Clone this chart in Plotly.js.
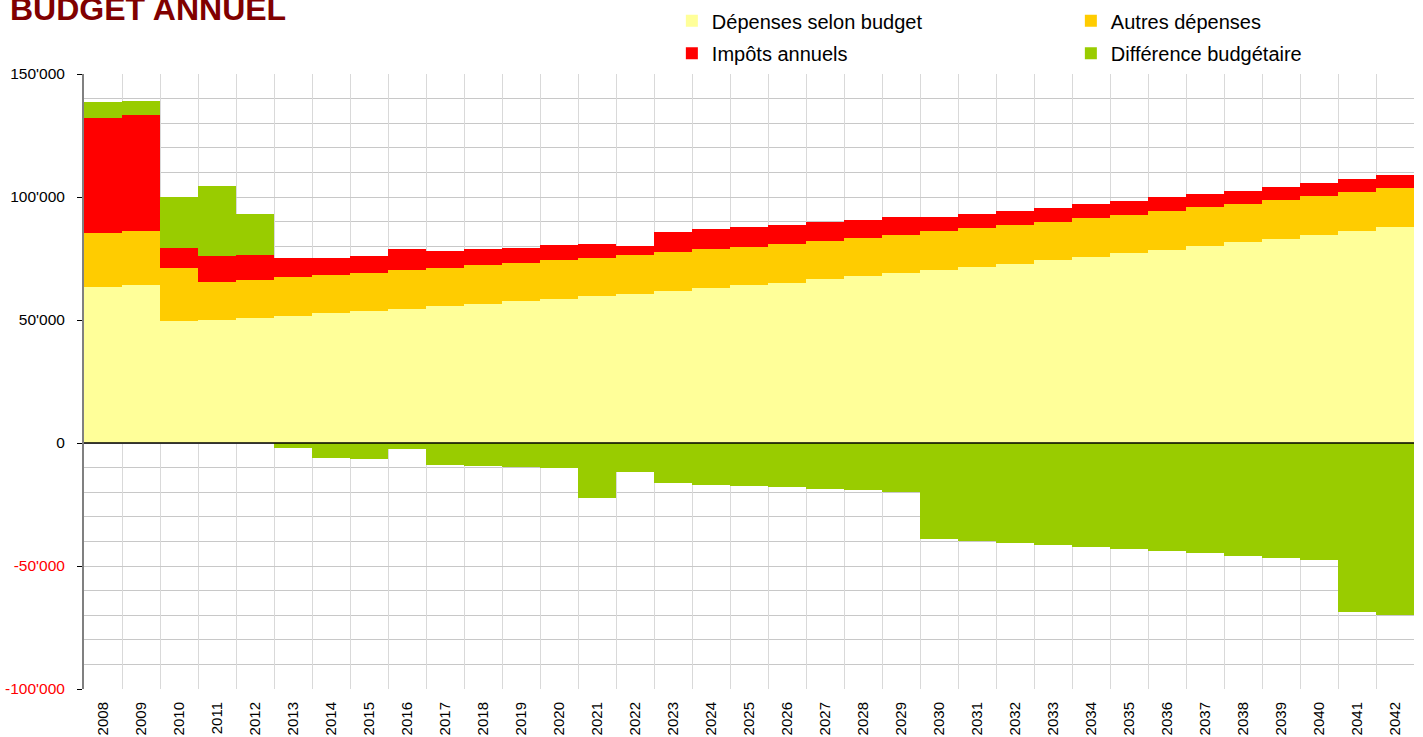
<!DOCTYPE html>
<html>
<head>
<meta charset="utf-8">
<script src="https://cdn.plot.ly/plotly-3.0.1.min.js"></script>
<style>html,body{margin:0;padding:0;background:#fff;}#chart{width:1423px;height:737px;}</style>
</head>
<body>
<div id="chart"></div>
<script>
const years = ["2008","2009","2010","2011","2012","2013","2014","2015","2016","2017","2018","2019","2020","2021","2022","2023","2024","2025","2026","2027","2028","2029","2030","2031","2032","2033","2034","2035","2036","2037","2038","2039","2040","2041","2042"];
const depensesBudget = [63600,64400,49400,50100,50900,51800,53000,53800,54300,55600,56400,57600,58400,59600,60400,61700,62900,64100,65000,66700,67900,69100,70300,71500,72800,74400,75600,77200,78500,80100,81700,82900,84600,86200,87800];
const autresDepenses = [21900,21900,21900,15500,15500,15800,15400,15400,15900,15400,15800,15400,15900,15500,15900,15800,15800,15500,15900,15400,15400,15500,15900,15900,15800,15400,15900,15500,15800,15800,15500,15900,15800,15800,15900];
const impotsAnnuels = [46700,47200,8000,10600,10200,7700,6900,7000,8500,6900,6500,6100,6100,5700,3600,8100,8200,8100,7700,7700,7400,7300,5700,5700,5700,5700,5700,5700,5700,5300,5200,5300,5300,5300,5200];
const differenceBudgetaire = [6400,5700,20600,28300,16500,-2200,-5900,-6300,-2600,-9100,-9500,-9900,-10300,-22500,-11600,-16400,-17200,-17600,-18000,-18800,-19300,-19800,-39100,-39900,-40700,-41600,-42400,-43200,-44000,-44800,-46000,-46800,-47600,-68700,-69900];
const yTickVals = [-100000,-50000,0,50000,100000,150000];
const yTickText = ["<span style='color:#ff0000'>-100'000</span>","<span style='color:#ff0000'>-50'000</span>","0","50'000","100'000","150'000"];

const FONT = "Arial, 'Liberation Sans', sans-serif";
function bar(name, y, color, legend) {
  return {type:'bar', name:name, x:years, y:y, marker:{color:color, line:{width:0}}, legend:legend, hoverinfo:'x+y+name'};
}
const data = [
  bar('Dépenses selon budget', depensesBudget, '#FFFF99', 'legend'),
  bar('Autres dépenses', autresDepenses, '#FFCC00', 'legend2'),
  bar('Impôts annuels', impotsAnnuels, '#FF0000', 'legend3'),
  bar('Différence budgétaire', differenceBudgetaire, '#99CC00', 'legend4')
];
const legBase = {orientation:'v', xanchor:'left', yanchor:'top', bgcolor:'rgba(0,0,0,0)', borderwidth:0, font:{family:FONT, size:20, color:'#000'}};
const layout = {
  width:1423, height:737,
  margin:{l:84, r:9, t:74, b:48, pad:0, autoexpand:false},
  paper_bgcolor:'#fff', plot_bgcolor:'#fff',
  barmode:'relative', bargap:0,
  font:{family:FONT, color:'#000'},
  xaxis:{type:'category', tickson:'boundaries', showgrid:true, gridcolor:'#d9d9d9', gridwidth:1,
         tickangle:-90, tickfont:{family:FONT, size:15, color:'#000'}, ticks:'', ticklabelstandoff:9,
         showline:false, zeroline:false, range:[-0.5, 34.5], fixedrange:true},
  yaxis:{range:[-100000,150000], tickvals:yTickVals, ticktext:yTickText, ticks:'outside', ticklen:5, tickcolor:'#000', tickwidth:1,
         tickfont:{family:FONT, size:15.5, color:'#000'}, ticklabelstandoff:9,
         showgrid:true, gridcolor:'#c8c8c8', gridwidth:1,
         minor:{dtick:10000, tick0:0, showgrid:true, gridcolor:'#c8c8c8', gridwidth:1, ticks:''},
         showline:true, linecolor:'#808080', linewidth:2, zeroline:false, fixedrange:true},
  showlegend:true,
  legend: Object.assign({}, legBase, {x:0.442, y:1.1183}),
  legend2: Object.assign({}, legBase, {x:0.742, y:1.1183}),
  legend3: Object.assign({}, legBase, {x:0.442, y:1.0655}),
  legend4: Object.assign({}, legBase, {x:0.742, y:1.0655}),
  shapes:[{type:'line', xref:'paper', yref:'y', x0:0, x1:1, y0:0, y1:0, line:{color:'#000', width:1.5}, layer:'above'}],
  annotations:[{text:'<b>BUDGET ANNUEL</b>', xref:'paper', yref:'paper', x:-0.0571, y:1.0735, xanchor:'left', yanchor:'bottom',
                showarrow:false, font:{family:FONT, size:32, color:'#800000'}}]
};
Plotly.newPlot('chart', data, layout, {displayModeBar:false, responsive:false});
</script>
</body>
</html>
